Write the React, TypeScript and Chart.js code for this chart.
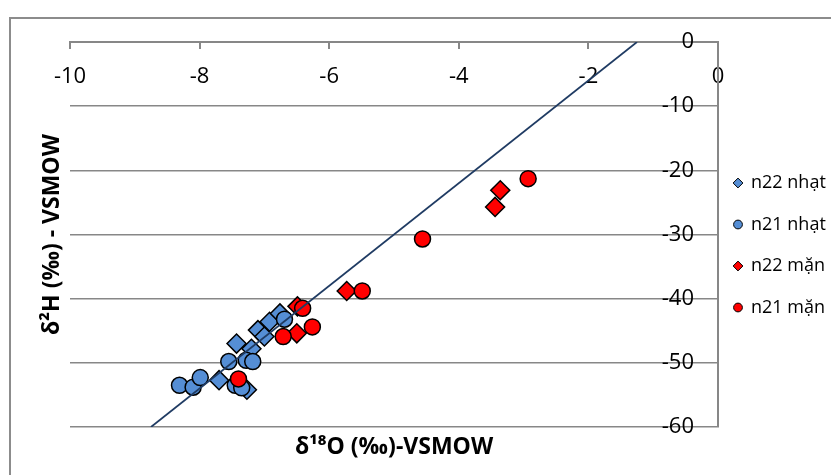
import { useEffect, useRef } from 'react';
import { Chart, registerables } from 'chart.js';
import { drawPoint } from 'chart.js/helpers';

Chart.register(...registerables);

const seriesNames = ['n22 nhạt', 'n21 nhạt', 'n22 mặn', 'n21 mặn'];

const n22NhatX = [-7.7, -7.27, -7.43, -7.2, -7.1, -7.0, -6.92, -6.76];
const n22NhatY = [-52.7, -54.2, -47.0, -47.8, -44.9, -45.9, -43.6, -42.3];

const n21NhatX = [-8.31, -8.1, -7.99, -7.55, -7.45, -7.35, -7.28, -7.18, -6.69];
const n21NhatY = [-53.5, -53.8, -52.3, -49.8, -53.5, -53.9, -49.6, -49.8, -43.2];

const n22ManX = [-3.36, -3.44, -5.73, -6.5, -6.49];
const n22ManY = [-23.1, -25.7, -38.8, -45.4, -41.2];

const n21ManX = [-2.93, -4.56, -5.49, -6.26, -6.41, -6.71, -7.4];
const n21ManY = [-21.3, -30.7, -38.8, -44.4, -41.5, -45.9, -52.5];

const lineX = [-8.75, -1.25];
const lineY = [-60, 0];

const xTicks = [-10, -8, -6, -4, -2, 0];
const yTicks = [0, -10, -20, -30, -40, -50, -60];

const xTitle = 'δ¹⁸O (‰)-VSMOW';
const yTitle = 'δ²H (‰) - VSMOW';

const BLUE = '#558ED5';
const RED = '#FF0000';
const GRID = '#878787';
const FONT = "'Open Sans', 'DejaVu Sans', sans-serif";

const zip = (xs: number[], ys: number[]) => xs.map((x, i) => ({ x, y: ys[i] }));

const framePlugin = {
  id: 'frame',
  beforeDraw(chart: any) {
    const ctx = chart.ctx;
    ctx.save();
    ctx.fillStyle = '#fff';
    ctx.fillRect(0, 0, chart.width, chart.height);
    ctx.strokeStyle = '#8c8c8c';
    ctx.lineWidth = 2;
    ctx.strokeRect(10, 18, chart.width + 20, chart.height + 20);
    ctx.restore();
  },
  afterDraw(chart: any) {
    const ctx = chart.ctx;
    const xs = chart.scales.x;
    const ca = chart.chartArea;
    ctx.save();
    ctx.strokeStyle = GRID;
    ctx.lineWidth = 2;
    xTicks.forEach((v) => {
      const px = Math.round(xs.getPixelForValue(v));
      ctx.beginPath();
      ctx.moveTo(px, ca.top);
      ctx.lineTo(px, ca.top + 7);
      ctx.stroke();
    });
    // legend
    seriesNames.forEach((name, i) => {
      const ds = chart.data.datasets[i];
      const cy = ca.top + 141 + i * 41.5;
      ctx.fillStyle = ds.backgroundColor;
      ctx.strokeStyle = '#000';
      ctx.lineWidth = 1;
      drawPoint(
        ctx,
        { pointStyle: ds.pointStyle, radius: ds.pointStyle === 'circle' ? 4.4 : 4.9, rotation: 0, borderWidth: 1 },
        ca.right + 20,
        cy
      );
      ctx.fillStyle = '#000';
      ctx.font = `18px ${FONT}`;
      ctx.textAlign = 'left';
      ctx.textBaseline = 'middle';
      ctx.fillText(name, ca.right + 33, cy);
    });
    ctx.restore();
  },
};

export default function App() {
  const ref = useRef<HTMLCanvasElement | null>(null);

  useEffect(() => {
    if (!ref.current) return;
    Chart.defaults.font.family = FONT;
    const pointDs = (label: string, xs: number[], ys: number[], color: string, style: string, r: number) => ({
      label,
      data: zip(xs, ys),
      backgroundColor: color,
      borderColor: '#000',
      borderWidth: 1.5,
      pointStyle: style,
      pointRadius: r,
      pointHoverRadius: r,
      showLine: false,
    });
    const chart = new Chart(ref.current, {
      type: 'scatter',
      data: {
        datasets: [
          { ...pointDs(seriesNames[0], n22NhatX, n22NhatY, BLUE, 'rectRot', 9.5), order: 4 },
          { ...pointDs(seriesNames[1], n21NhatX, n21NhatY, BLUE, 'circle', 8), order: 3 },
          { ...pointDs(seriesNames[2], n22ManX, n22ManY, RED, 'rectRot', 9.5), order: 2 },
          { ...pointDs(seriesNames[3], n21ManX, n21ManY, RED, 'circle', 8), order: 1 },
          {
            label: 'GMWL',
            data: zip(lineX, lineY),
            showLine: true,
            borderColor: '#1F3B63',
            borderWidth: 1.75,
            pointRadius: 0,
            pointHoverRadius: 0,
            fill: false,
            order: 0,
          } as any,
        ],
      },
      options: {
        animation: false,
        responsive: true,
        maintainAspectRatio: false,
        events: [],
        layout: { padding: { left: 35, top: 42, right: 113, bottom: 0 } },
        plugins: { legend: { display: false }, tooltip: { enabled: false }, title: { display: false } },
        scales: {
          x: {
            type: 'linear',
            position: 'top',
            min: xTicks[0],
            max: xTicks[xTicks.length - 1],
            afterBuildTicks: (s: any) => {
              s.ticks = xTicks.map((v) => ({ value: v }));
            },
            ticks: {
              mirror: true,
              padding: 21.5,
              color: '#000',
              font: { size: 22, family: FONT },
              maxRotation: 0,
              autoSkip: false,
            },
            grid: { display: false, drawTicks: false },
            border: { display: true, color: GRID, width: 2 },
            afterFit: (s: any) => {
              s.height = 0;
            },
          },
          y: {
            type: 'linear',
            position: 'right',
            min: yTicks[yTicks.length - 1],
            max: yTicks[0],
            afterBuildTicks: (s: any) => {
              s.ticks = yTicks.map((v) => ({ value: v }));
            },
            ticks: {
              mirror: true,
              padding: -24,
              color: '#000',
              font: { size: 22, family: FONT },
              autoSkip: false,
            },
            grid: { display: true, drawTicks: false, color: GRID, lineWidth: 1.5 },
            border: { display: true, color: GRID, width: 2 },
            afterFit: (s: any) => {
              s.width = 0;
            },
          },
          x2: {
            type: 'linear',
            position: 'bottom',
            display: true,
            ticks: { display: false },
            grid: { display: false, drawTicks: false },
            border: { display: false },
            title: {
              display: true,
              text: xTitle,
              color: '#000',
              font: { size: 23, weight: 'bold', family: FONT },
              padding: { top: 0, bottom: 14.2 },
            },
            afterFit: (s: any) => {
              s.height = 48;
            },
          },
          y2: {
            type: 'linear',
            position: 'left',
            display: true,
            ticks: { display: false },
            grid: { display: false, drawTicks: false },
            border: { display: false },
            title: {
              display: true,
              text: yTitle,
              color: '#000',
              font: { size: 23, weight: 'bold', family: FONT },
              padding: { top: 3.5, bottom: 0 },
            },
            afterFit: (s: any) => {
              s.width = 35;
            },
          },
        } as any,
      },
      plugins: [framePlugin],
    } as any);
    return () => chart.destroy();
  }, []);

  return (
    <div style={{ position: 'fixed', left: 0, top: 0, width: 831, height: 475 }}>
      <canvas ref={ref} />
    </div>
  );
}
